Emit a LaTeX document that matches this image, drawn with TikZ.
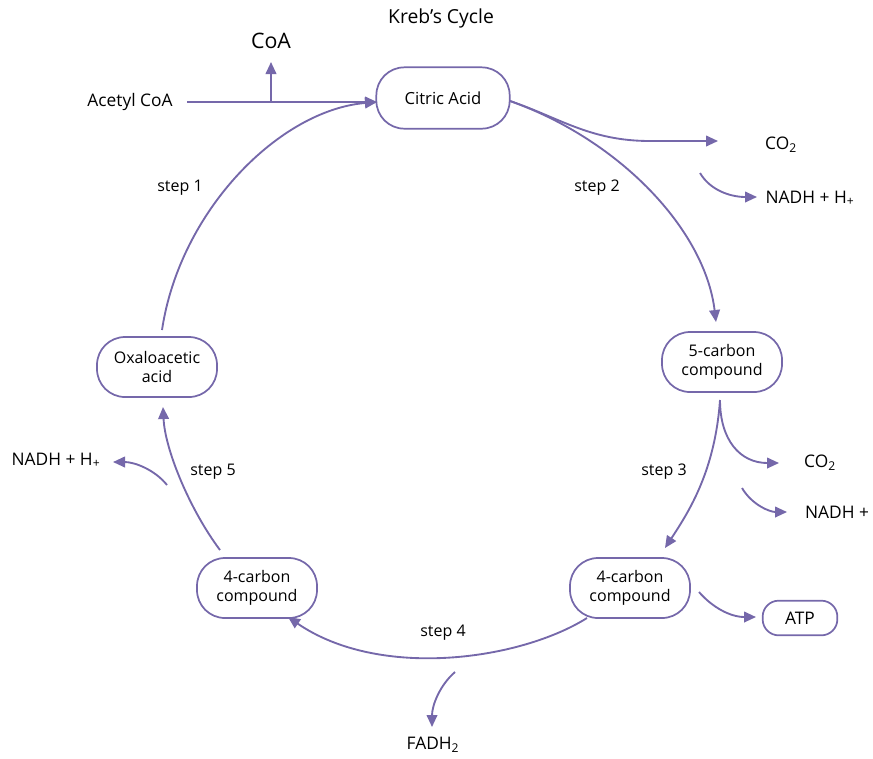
\documentclass[tikz,border=0pt]{standalone}
\usepackage{fontspec}
\setmainfont{Open Sans}
\usetikzlibrary{arrows.meta}
\definecolor{cyc}{RGB}{117,104,170}
\tikzset{
  stage/.style={draw=cyc, line width=1.3pt, rounded corners=21pt, minimum width=90pt, minimum height=45pt, align=center, font=\fontsize{12}{14}\selectfont, inner sep=2pt},
  lbl/.style={font=\fontsize{12}{14}\selectfont, inner sep=1pt},
  big/.style={font=\fontsize{13}{15}\selectfont, inner sep=1pt},
  flow/.style={draw=cyc, line width=1.4pt, -{Triangle[length=9pt,width=8pt]}},
  plain/.style={draw=cyc, line width=1.4pt}
}
\begin{document}
\begin{tikzpicture}[x=0.75pt,y=-0.75pt]
\useasboundingbox (0,0) rectangle (873,758);
% nodes
\node[stage, minimum width=100pt, minimum height=46pt, font=\fontsize{12.5}{14}\selectfont] (cit) at (443,98) {Citric Acid};
\node[stage] (five) at (722,362) {5-carbon\\compound};
\node[stage] (fourR) at (630,588) {4-carbon\\compound};
\node[stage] (fourL) at (257,588) {4-carbon\\compound};
\node[stage] (oxa) at (157,367) {Oxaloacetic\\acid};
\node[stage, minimum width=56pt, minimum height=26pt, rounded corners=12pt, font=\fontsize{13}{15}\selectfont] (atp) at (800,618) {ATP};
% labels
\node[big, font=\fontsize{14.5}{16}\selectfont] (title) at (441,18) {Kreb’s Cycle};
\node[big, font=\fontsize{16}{18}\selectfont] (coa) at (271,41) {CoA};
\node[lbl, font=\fontsize{13}{15}\selectfont] (acetyl) at (130,102) {Acetyl CoA};
\node[lbl] (s1) at (180,188) {step 1};
\node[lbl] (s2) at (597,188) {step 2};
\node[lbl] (s3) at (664,472) {step 3};
\node[lbl] (s4) at (443,633) {step 4};
\node[lbl] (s5) at (213,472) {step 5};
\node[big] (co2a) at (781,145) {CO\textsubscript{2}};
\node[lbl, font=\fontsize{13}{15}\selectfont] (nadha) at (810,198) {NADH + H\textsubscript{+}};
\node[big] (co2b) at (820,463) {CO\textsubscript{2}};
\node[lbl, font=\fontsize{13}{15}\selectfont] (nadhb) at (837,512) {NADH +};
\node[lbl, font=\fontsize{13}{15}\selectfont] (nadhc) at (56,460) {NADH + H\textsubscript{+}};
\node[big] (fadh) at (433,745) {FADH\textsubscript{2}};
% coordinates
\coordinate (citR) at (510,101);
\coordinate (citL) at (377,102);
\coordinate (acE) at (187,102);
\coordinate (junc) at (271,102);
\coordinate (coaEnd) at (271,62);
\coordinate (fiveT) at (716,322);
\coordinate (fiveB) at (720,400);
\coordinate (fourRT) at (665,548);
\coordinate (fourRB) at (587,618);
\coordinate (fourLR) at (288,617);
\coordinate (fourLT) at (220,550);
\coordinate (oxaB) at (163,407);
\coordinate (oxaT) at (162,330);
\coordinate (co2aEnd) at (718,141);
\coordinate (na1) at (700,173);
\coordinate (na2) at (757,197);
\coordinate (co2bEnd) at (779,463);
\coordinate (nb1) at (742,488);
\coordinate (nb2) at (787,512);
\coordinate (atp1) at (699,592);
\coordinate (atp2) at (756,617);
\coordinate (f1) at (455,672);
\coordinate (f2) at (432,727);
\coordinate (nc1) at (167,485);
\coordinate (nc2) at (113,462);
% connectors
\draw[flow] (acE) -- (citL);
\draw[flow] (junc) -- (coaEnd);
\draw[flow] (oxaT) .. controls (180,210) and (280,110) .. (citL);
\draw[flow] (citR) .. controls (620,140) and (705,230) .. (fiveT);
\draw[flow] (citR) .. controls (560,118) and (590,141) .. (650,141) -- (co2aEnd);
\draw[flow] (na1) .. controls (710,190) and (730,197) .. (na2);
\draw[flow] (fiveB) .. controls (715,470) and (690,510) .. (fourRT);
\draw[flow] (fiveB) .. controls (720,440) and (740,463) .. (co2bEnd);
\draw[flow] (nb1) .. controls (752,505) and (770,512) .. (nb2);
\draw[flow] (atp1) .. controls (712,607) and (730,617) .. (atp2);
\draw[flow] (fourRB) .. controls (520,660) and (380,680) .. (fourLR);
\draw[flow] (f1) .. controls (440,685) and (432,705) .. (f2);
\draw[flow] (fourLT) .. controls (190,510) and (165,450) .. (oxaB);
\draw[flow] (nc1) .. controls (155,470) and (135,462) .. (nc2);
\end{tikzpicture}
\end{document}
